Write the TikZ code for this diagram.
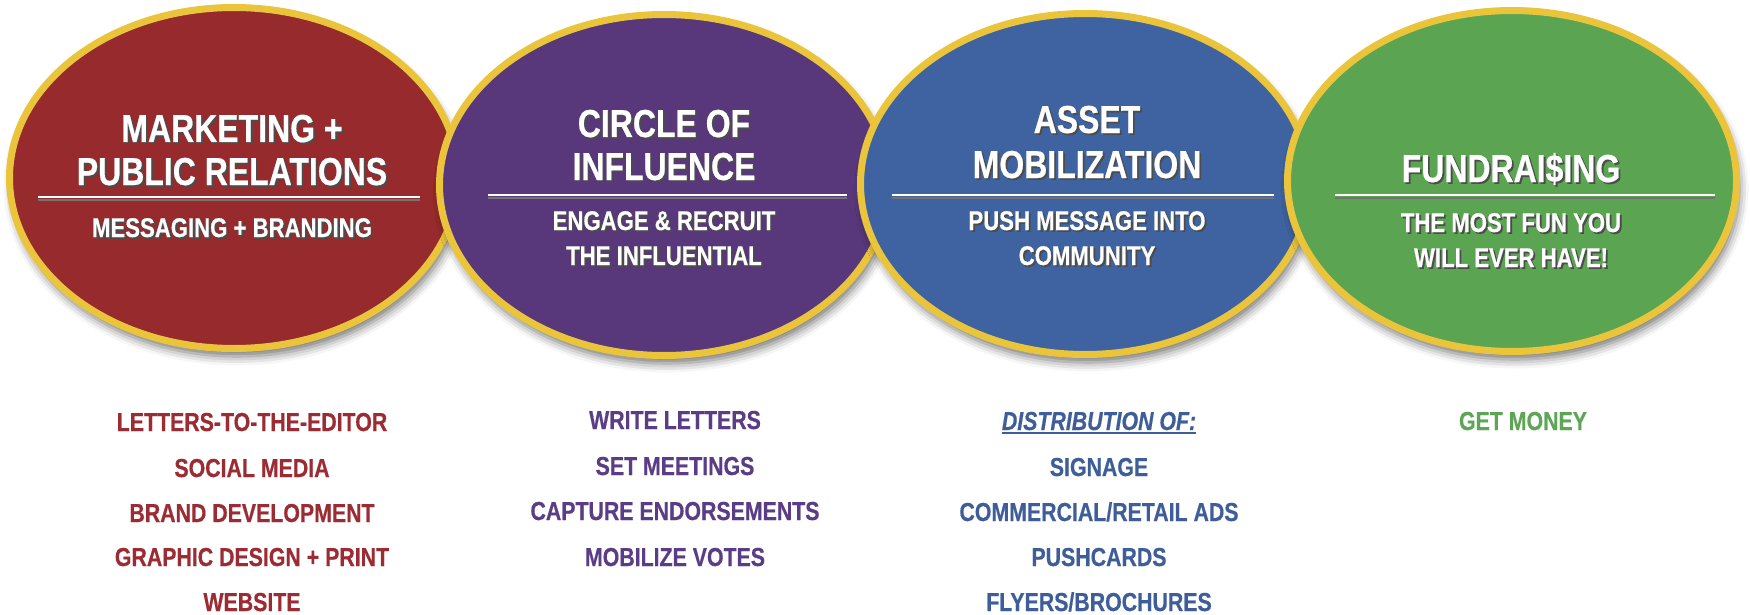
\documentclass[tikz,border=0pt]{standalone}
\usepackage{fontspec}
\newfontfamily\cond[FakeStretch=0.82, FakeBold=0.5]{Liberation Sans}
\usetikzlibrary{shapes.geometric,shadows.blur}
\definecolor{cred}{HTML}{962A2C}
\definecolor{cpur}{HTML}{58377B}
\definecolor{cblu}{HTML}{3E63A0}
\definecolor{cgrn}{HTML}{5AA452}
\definecolor{cyel}{HTML}{EAC53C}
\definecolor{tred}{HTML}{9B2C33}
\definecolor{tpur}{HTML}{5B3D86}
\definecolor{tblu}{HTML}{3F5E99}
\definecolor{tgrn}{HTML}{5FA557}
\newcommand\shd[1]{\leavevmode\rlap{\kern1.8pt\raisebox{-1.8pt}{\color{black!70}#1}}#1}
\tikzset{
  disc/.style={ellipse, draw=cyel, line width=7pt, minimum width=449pt, minimum height=341pt, inner sep=0pt,
    blur shadow={shadow xshift=3pt, shadow yshift=-8pt, shadow blur radius=9pt, shadow opacity=55}},
  ttl/.style={font=\cond\bfseries\fontsize{39}{44}\selectfont, text=white, anchor=base, inner sep=0pt},
  sub/.style={font=\cond\bfseries\fontsize{27}{30}\selectfont, text=white, anchor=base, inner sep=0pt},
  item/.style={font=\cond\bfseries\fontsize{26}{30}\selectfont, anchor=base, inner sep=0pt},
  sep/.style={white, line width=2.5pt},
  sepsh/.style={black!55, line width=2pt},
}
\begin{document}
\begin{tikzpicture}[x=1pt,y=-1pt]
\useasboundingbox (0,0) rectangle (1750,615);
% discs
\node[disc, fill=cred] (e1) at (234,178) {};
\node[disc, fill=cpur] (e2) at (664,185) {};
\node[disc, fill=cblu] (e3) at (1085,184) {};
\node[disc, fill=cgrn] (e4) at (1512,181) {};
% separators
\draw[sepsh] (38,199.5) -- (420,199.5);
\draw[sep] (38,197) -- (420,197);
\draw[sepsh] (488,197.5) -- (847,197.5);
\draw[sep] (488,195) -- (847,195);
\draw[sepsh] (892,197.5) -- (1274,197.5);
\draw[sep] (892,195) -- (1274,195);
\draw[sepsh] (1335,197.5) -- (1715,197.5);
\draw[sep] (1335,195) -- (1715,195);
% disc texts
\node[ttl] (t1a) at (232,142) {\shd{MARKETING +}};
\node[ttl] (t1b) at (232,185) {\shd{PUBLIC RELATIONS}};
\node[sub] (s1a) at (232,237) {\shd{MESSAGING + BRANDING}};
\node[ttl] (t2a) at (664,137) {\shd{CIRCLE OF}};
\node[ttl] (t2b) at (664,180) {\shd{INFLUENCE}};
\node[sub] (s2a) at (664,230) {\shd{ENGAGE \& RECRUIT}};
\node[sub] (s2b) at (664,265) {\shd{THE INFLUENTIAL}};
\node[ttl] (t3a) at (1087,133) {\shd{ASSET}};
\node[ttl] (t3b) at (1087,178) {\shd{MOBILIZATION}};
\node[sub] (s3a) at (1087,230) {\shd{PUSH MESSAGE INTO}};
\node[sub] (s3b) at (1087,265) {\shd{COMMUNITY}};
\node[ttl] (t4a) at (1511,182) {\shd{FUNDRAI\$ING}};
\node[sub] (s4a) at (1511,232) {\shd{THE MOST FUN YOU}};
\node[sub] (s4b) at (1511,267) {\shd{WILL EVER HAVE!}};
% lists
\node[item, text=tred] (r1) at (252,431) {LETTERS-TO-THE-EDITOR};
\node[item, text=tred] (r2) at (252,477) {SOCIAL MEDIA};
\node[item, text=tred] (r3) at (252,522) {BRAND DEVELOPMENT};
\node[item, text=tred] (r4) at (252,566) {GRAPHIC DESIGN + PRINT};
\node[item, text=tred] (r5) at (252,611) {WEBSITE};
\node[item, text=tpur] (p1) at (675,429) {WRITE LETTERS};
\node[item, text=tpur] (p2) at (675,475) {SET MEETINGS};
\node[item, text=tpur] (p3) at (675,520) {CAPTURE ENDORSEMENTS};
\node[item, text=tpur] (p4) at (675,566) {MOBILIZE VOTES};
\node[item, text=tblu] (dist) at (1099,430) {\itshape DISTRIBUTION OF:};
\draw[tblu, line width=1.8pt] ([yshift=-3pt]dist.base west) -- ([yshift=-3pt]dist.base east);
\node[item, text=tblu] (b1) at (1099,476) {SIGNAGE};
\node[item, text=tblu] (b2) at (1099,521) {COMMERCIAL/RETAIL ADS};
\node[item, text=tblu] (b3) at (1099,566) {PUSHCARDS};
\node[item, text=tblu] (b4) at (1099,611) {FLYERS/BROCHURES};
\node[item, text=tgrn] (g1) at (1523,430) {GET MONEY};
\end{tikzpicture}
\end{document}
